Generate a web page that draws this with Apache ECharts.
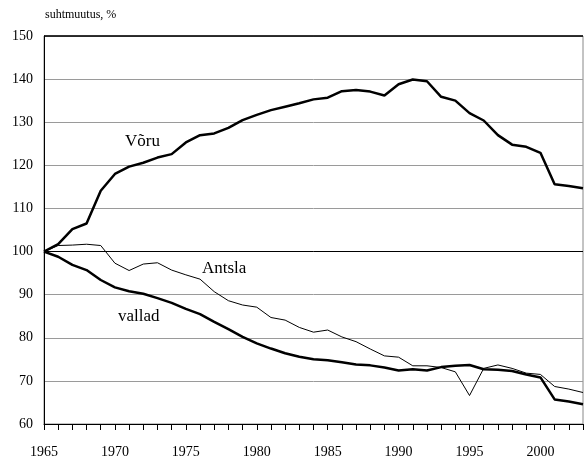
<!DOCTYPE html>
<html><head><meta charset="utf-8">
<script src="https://cdn.jsdelivr.net/npm/echarts@6/dist/echarts.min.js"></script>
<style>html,body{margin:0;padding:0;background:#fff}#c{width:584px;height:459px}</style>
</head><body><div id="c"></div>
<script>
const years = [];
for (let y = 1965; y <= 2003; y++) years.push(String(y));
const voru = [100,101.7,105.2,106.5,114.1,118.0,119.7,120.6,121.8,122.6,125.3,127.0,127.4,128.7,130.5,131.7,132.8,133.6,134.4,135.3,
  135.7,137.2,137.5,137.1,136.2,138.8,139.9,139.5,135.9,135.0,132.1,130.4,127.0,124.8,124.3,122.9,115.6,115.2,114.7];
const antsla = [100,101.4,101.5,101.7,101.4,97.3,95.6,97.1,97.4,95.7,94.6,93.6,90.7,88.6,87.6,87.1,84.7,84.1,82.4,81.3,
  81.8,80.2,79.1,77.4,75.8,75.5,73.5,73.5,73.1,72.1,66.6,72.9,73.7,72.9,71.8,71.5,68.7,68.1,67.3];
const vallad = [100,98.8,96.9,95.7,93.4,91.7,90.8,90.2,89.2,88.1,86.7,85.5,83.7,82.0,80.2,78.7,77.5,76.4,75.6,75.0,
  74.8,74.3,73.8,73.6,73.1,72.4,72.7,72.4,73.2,73.5,73.7,72.7,72.6,72.3,71.5,70.8,65.7,65.2,64.6];
const yTitle = 'suhtmuutus, %';
const names = ['Võru', 'Antsla', 'vallad'];

const font = '"Liberation Serif", "Times New Roman", serif';
const chart = echarts.init(document.getElementById('c'), null, {renderer: 'canvas'});
chart.setOption({
  animation: false,
  backgroundColor: '#fff',
  textStyle: {fontFamily: font},
  grid: {left: 44, right: 1, top: 36, bottom: 35, show: true, borderColor: '#888', borderWidth: 1},
  xAxis: {
    type: 'category', data: years, boundaryGap: false,
    axisLine: {lineStyle: {color: '#000', width: 1}},
    axisTick: {interval: 0, length: 6, lineStyle: {color: '#000'}},
    axisLabel: {interval: 4, color: '#000', fontFamily: font, fontSize: 14, margin: 21},
    splitLine: {show: false}
  },
  yAxis: {
    type: 'value', min: 60, max: 150, interval: 10,
    axisLine: {show: true, lineStyle: {color: '#000'}},
    axisTick: {show: false},
    axisLabel: {color: '#000', fontFamily: font, fontSize: 14, margin: 11, padding: [3, 0, 0, 0]},
    splitLine: {lineStyle: {color: '#9a9a9a', width: 1}}
  },
  graphic: [
    {type: 'text', left: 45, top: 9, style: {text: yTitle, font: '12px ' + font, fill: '#000'}},
    {type: 'text', left: 125, top: 133, style: {text: names[0], font: '17px ' + font, fill: '#000'}},
    {type: 'text', left: 202, top: 260, style: {text: names[1], font: '17px ' + font, fill: '#000'}},
    {type: 'text', left: 118, top: 308, style: {text: names[2], font: '17px ' + font, fill: '#000'}}
  ],
  series: [
    {name: names[1], type: 'line', data: antsla, symbol: 'none', lineStyle: {color: '#000', width: 1}, z: 3,
     markLine: {silent: true, symbol: 'none', label: {show: false},
       lineStyle: {color: '#000', width: 1, type: 'solid'},
       data: [{yAxis: 100}, {yAxis: 150, lineStyle: {width: 1.5}}]}},
    {name: names[0], type: 'line', data: voru, symbol: 'none', lineStyle: {color: '#000', width: 2.5}, z: 4},
    {name: names[2], type: 'line', data: vallad, symbol: 'none', lineStyle: {color: '#000', width: 2.5}, z: 4}
  ]
});
</script></body></html>
